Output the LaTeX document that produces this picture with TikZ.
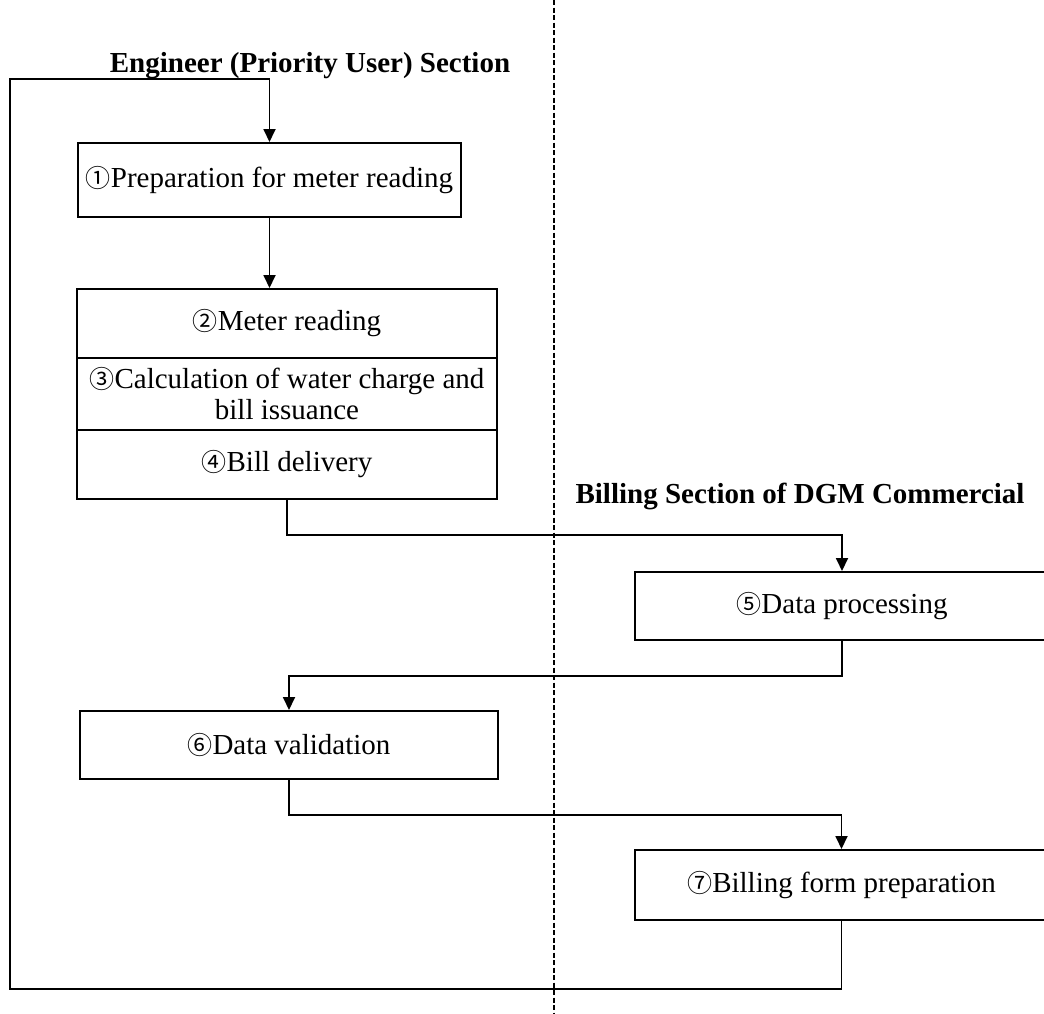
\documentclass[tikz,border=0pt]{standalone}
\usepackage{fontspec}
\setmainfont{Liberation Serif}
\newfontfamily\circfont{Noto Sans CJK JP}
\usetikzlibrary{arrows.meta}
\newcommand\circd[1]{{\circfont\fontsize{25}{25}\selectfont#1}}
\begin{document}
\begin{tikzpicture}[x=1pt,y=-1pt,
  box/.style={draw,line width=2pt,rectangle,inner sep=0pt,align=center,
    font=\fontsize{29}{31}\selectfont},
  conn/.style={line width=1.8pt,-{Triangle[length=13pt,width=12pt]}},
  title/.style={font=\bfseries\fontsize{29}{31}\selectfont,anchor=base,inner sep=0pt},
  lane/.style={line width=1.4pt,dash pattern=on 5pt off 2.5pt}]
\useasboundingbox (0,0) rectangle (1044,1013);

% swim-lane divider
\coordinate (laneTop) at (554,0);
\coordinate (laneBot) at (554,1013);
\draw[lane] (laneTop) -- (laneBot);

% lane titles
\node[title] (t1) at (310,72) {Engineer (Priority User) Section};
\node[title] (t2) at (800,503) {Billing Section of DGM Commercial};

% process steps
\node[box,minimum width=383pt,minimum height=74pt] (b1) at (269.5,180)
  {\circd{①}Preparation for meter reading};
\node[box,minimum width=420pt,minimum height=69pt] (b2) at (287,323.5)
  {\circd{②}Meter reading};
\node[box,minimum width=420pt,minimum height=72pt] (b3) at (287,394)
  {\circd{③}Calculation of water charge and\\bill issuance};
\node[box,minimum width=420pt,minimum height=69pt] (b4) at (287,464.5)
  {\circd{④}Bill delivery};
\node[box,minimum width=414pt,minimum height=68pt] (b5) at (842,606)
  {\circd{⑤}Data processing};
\node[box,minimum width=418pt,minimum height=68pt] (b6) at (289,745)
  {\circd{⑥}Data validation};
\node[box,minimum width=413pt,minimum height=70pt] (b7) at (841.5,885)
  {\circd{⑦}Billing form preparation};

% flow connectors
\coordinate (loopBL) at (10,989);
\coordinate (loopTL) at (10,79);
\draw[conn] (b1.south) -- (b1.south |- b2.north);
\draw[conn] (b4.south) -- ++(0,35) -| (b5.north);
\draw[conn] (b5.south) -- ++(0,35) -| (b6.north);
\draw[conn] (b6.south) -- ++(0,35) -| (b7.north);
\draw[conn] (b7.south) |- (loopBL) -- (loopTL) -| (b1.north);
\end{tikzpicture}
\end{document}
